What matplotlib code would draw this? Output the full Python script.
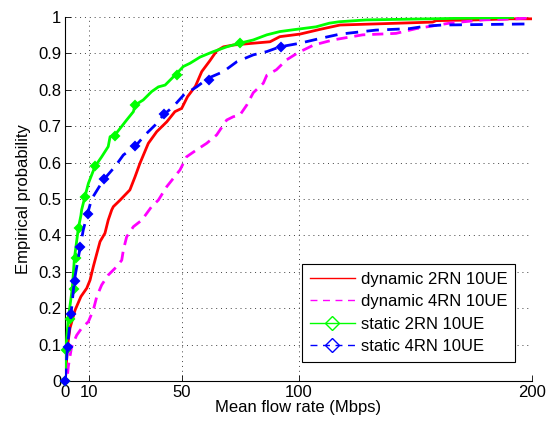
import matplotlib
matplotlib.use('Agg')
import matplotlib.pyplot as plt
from matplotlib.lines import Line2D

plt.rcParams['font.family'] = ['Liberation Sans', 'DejaVu Sans']
plt.rcParams['font.size'] = 12

# dynamic 2RN 10UE (red, solid)
dyn2_x = [0.0, 0.3, 0.9, 2.0, 4.2, 6.7, 9.2, 10.6, 12.0, 13.5, 14.9, 17.0, 18.4, 19.9, 20.6,
          23.5, 27.7, 29.9, 32.0, 35.6, 39.2, 43.5, 47.0, 49.9, 52.4, 55.8, 58.5, 62.0, 64.9,
          67.8, 72.0, 80.6, 87.8, 92.0, 100.6, 109.2, 117.8, 133.0, 157.5, 159.0, 176.0, 190.5, 200.0]
dyn2_y = [0.0, 0.03, 0.094, 0.145, 0.195, 0.232, 0.255, 0.277, 0.314, 0.35, 0.383, 0.406, 0.442, 0.47, 0.479,
          0.497, 0.525, 0.561, 0.598, 0.653, 0.685, 0.712, 0.74, 0.749, 0.781, 0.81, 0.85, 0.88, 0.907,
          0.918, 0.923, 0.928, 0.932, 0.946, 0.953, 0.966, 0.978, 0.981, 0.986, 0.99, 0.992, 0.995, 0.995]

# dynamic 4RN 10UE (magenta, dashed)
dyn4_x = [1.0, 1.3, 2.7, 4.9, 7.0, 9.9, 12.0, 13.5, 15.6, 18.4, 22.0, 24.2, 24.9, 26.3, 29.2, 32.8,
          37.0, 39.9, 43.5, 49.2, 52.0, 56.3, 60.6, 64.9, 69.2, 72.0, 74.9, 77.8, 80.6, 84.9, 86.4,
          90.5, 94.8, 99.8, 106.5, 114.8, 127.5, 141.8, 150.4, 164.7, 179.0, 193.3, 200.0]
dyn4_y = [0.02, 0.04, 0.094, 0.126, 0.145, 0.163, 0.195, 0.232, 0.264, 0.291, 0.314, 0.332, 0.36, 0.396, 0.424, 0.442,
          0.479, 0.497, 0.534, 0.58, 0.616, 0.635, 0.653, 0.676, 0.717, 0.726, 0.731, 0.758, 0.792, 0.818, 0.84,
          0.855, 0.882, 0.902, 0.923, 0.937, 0.951, 0.955, 0.968, 0.983, 0.992, 0.995, 0.998]

# static 2RN 10UE (green, solid, diamonds)
st2_x = [0.0, 0.2, 1.3, 3.0, 3.9, 5.6, 6.7, 7.0, 8.4, 9.9, 12.7, 15.6, 18.4, 19.2, 21.3, 26.3, 29.2,
         29.9, 33.4, 37.0, 39.9, 42.8, 47.8, 50.6, 53.5, 57.8, 63.5, 69.2, 74.8, 80.6, 86.4, 92.0,
         97.8, 107.5, 113.2, 117.5, 129.0, 156.0, 191.8]
st2_y = [0.0, 0.085, 0.172, 0.255, 0.337, 0.42, 0.455, 0.47, 0.506, 0.543, 0.589, 0.616, 0.644, 0.671, 0.676, 0.717, 0.74,
         0.758, 0.772, 0.795, 0.808, 0.813, 0.845, 0.864, 0.873, 0.89, 0.905, 0.918, 0.928, 0.937, 0.951, 0.96,
         0.965, 0.973, 0.983, 0.987, 0.992, 0.995, 0.999]
st2_mx = [0.0, 0.4, 1.9, 3.6, 4.4, 5.9, 8.6, 12.8, 21.3, 29.9, 47.8, 74.8]
st2_my = [0.0, 0.084, 0.17, 0.252, 0.338, 0.42, 0.506, 0.59, 0.674, 0.759, 0.84, 0.928]

# static 4RN 10UE (blue, dashed, diamonds)
st4_x = [0.0, 0.9, 2.4, 3.9, 6.3, 7.7, 9.6, 11.3, 16.3, 21.3, 24.9, 29.9, 34.2, 38.5, 42.1, 46.3,
         50.8, 56.3, 61.3, 67.8, 73.5, 80.6, 86.4, 92.0, 100.6, 109.2, 117.8, 133.2, 147.5, 154.7, 161.8, 200.0]
st4_y = [0.0, 0.094, 0.181, 0.277, 0.365, 0.415, 0.461, 0.5, 0.552, 0.589, 0.621, 0.644, 0.676, 0.703, 0.731, 0.754,
         0.786, 0.808, 0.832, 0.85, 0.877, 0.896, 0.905, 0.918, 0.928, 0.941, 0.953, 0.964, 0.968, 0.975, 0.978, 0.981]
st4_mx = [0.0, 1.1, 2.6, 4.2, 6.4, 9.9, 16.6, 29.9, 42.2, 61.5, 92.4]
st4_my = [0.0, 0.094, 0.185, 0.276, 0.368, 0.46, 0.555, 0.646, 0.734, 0.827, 0.918]

labels = ['dynamic 2RN 10UE', 'dynamic 4RN 10UE', 'static 2RN 10UE', 'static 4RN 10UE']
x_ticks = [0, 10, 50, 100, 200]
y_ticks = [0, 0.1, 0.2, 0.3, 0.4, 0.5, 0.6, 0.7, 0.8, 0.9, 1]
y_ticklabels = ['0', '0.1', '0.2', '0.3', '0.4', '0.5', '0.6', '0.7', '0.8', '0.9', '1']

fig = plt.figure(figsize=(5.52, 4.24), dpi=100)
ax = fig.add_axes([0.1183, 0.1014, 0.845, 0.8585])

lw = 2.0
ax.plot(dyn2_x, dyn2_y, color='red', lw=lw, zorder=3)
ax.plot(dyn4_x, dyn4_y, color='magenta', lw=lw, dashes=(4, 2.5), zorder=3)
ax.plot(st2_x, st2_y, color='#00ff00', lw=lw, zorder=4)
ax.plot(st2_mx, st2_my, ls='none', marker='D', ms=4.5, mfc='#00ff00', mec='#00ff00', mew=1.5,
        zorder=4, clip_on=False)
ax.plot(st4_x, st4_y, color='blue', lw=lw, dashes=(4.5, 3), zorder=5)
ax.plot(st4_mx, st4_my, ls='none', marker='D', ms=4.5, mfc='blue', mec='blue', mew=1.5,
        zorder=5, clip_on=False)

ax.set_xlim(0, 200)
ax.set_ylim(0, 1)
ax.set_xticks(x_ticks)
ax.set_yticks(y_ticks)
ax.set_yticklabels(y_ticklabels)
ax.tick_params(direction='in', length=4, width=0.6, top=False, right=False, pad=3)
ax.spines['top'].set_visible(False)
ax.spines['right'].set_visible(False)
ax.spines['left'].set_linewidth(0.8)
ax.spines['bottom'].set_linewidth(0.8)
ax.grid(True, color='0.25', linestyle=(0, (1, 4)), linewidth=0.7)
ax.set_axisbelow(True)

ax.set_xlabel('Mean flow rate (Mbps)', labelpad=0)
ax.set_ylabel('Empirical probability', labelpad=5)

handles = [
    Line2D([], [], color='red', lw=1),
    Line2D([], [], color='magenta', lw=1, dashes=(5, 4)),
    Line2D([], [], color='#00ff00', lw=1, marker='D', ms=7, mfc='none'),
    Line2D([], [], color='blue', lw=1, dashes=(5, 4), marker='D', ms=7, mfc='none'),
]
leg = ax.legend(handles, labels, loc='lower right', bbox_to_anchor=(0.964, 0.053),
                fancybox=False, edgecolor='black', framealpha=1, handlelength=2.7,
                handletextpad=0.35, labelspacing=0.45, borderpad=0.45, borderaxespad=0)
leg.get_frame().set_linewidth(0.8)

fig.savefig('out.png', dpi=100)
